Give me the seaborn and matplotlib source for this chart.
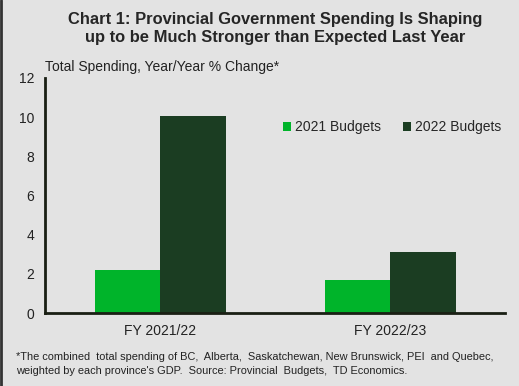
import matplotlib
matplotlib.use("Agg")
import matplotlib.pyplot as plt
import pandas as pd
import seaborn as sns

periods = ["FY 2021/22", "FY 2022/23"]
budget_2021 = [2.2, 1.7]
budget_2022 = [10.05, 3.1]
series_names = ["2021 Budgets", "2022 Budgets"]
yticks = [0, 2, 4, 6, 8, 10, 12]

bg = "#e3e3e3"
colors = ["#00b42a", "#1b3d22"]

df = pd.DataFrame({
    "period": periods * 2,
    "budget": [series_names[0]] * 2 + [series_names[1]] * 2,
    "value": budget_2021 + budget_2022,
})

sns.set_style("white")
plt.rcParams["font.family"] = ["Liberation Sans", "DejaVu Sans"]

fig = plt.figure(figsize=(5.19, 3.86), dpi=100, facecolor=bg)
ax = fig.add_axes([0.087, 0.189, 0.886, 0.609])
ax.set_facecolor(bg)

sns.barplot(data=df, x="period", y="value", hue="budget", palette=colors,
            width=0.57, saturation=1, ax=ax, edgecolor="none")

ax.set_ylim(0, 12)
ax.set_xlim(-0.5, 1.5)
ax.set_yticks(yticks)
ax.set_xlabel("")
ax.set_ylabel("")
ax.tick_params(axis="both", length=0, labelsize=10, colors="#222222", pad=8)
for s in ["top", "right"]:
    ax.spines[s].set_visible(False)
for s in ["left", "bottom"]:
    ax.spines[s].set_color("#1a1f14")
    ax.spines[s].set_linewidth(2)

leg = ax.legend(loc="center left", bbox_to_anchor=(0.49, 0.79), ncol=2, frameon=False,
                fontsize=10, handlelength=0.55, handleheight=0.55, handletextpad=0.3,
                columnspacing=1.6)

fig.text(0.53, 0.968, "Chart 1: Provincial Government Spending Is Shaping\nup to be Much Stronger than Expected Last Year",
         ha="center", va="top", fontsize=11.9, fontweight="bold", linespacing=1.2)
fig.text(45 / 519, 1 - 67 / 386, "Total Spending, Year/Year % Change*", ha="left", va="center",
         fontsize=10, color="#222222")
fig.text(16 / 519, 1 - 364 / 386,
         "*The combined  total spending of BC,  Alberta,  Saskatchewan, New Brunswick, PEI  and Quebec,\n"
         "weighted by each province's GDP.  Source: Provincial  Budgets,  TD Economics.",
         ha="left", va="center", fontsize=7.9, color="#222222", linespacing=1.55)

fig.lines.append(plt.Line2D([0.002, 0.002], [0, 1], transform=fig.transFigure,
                            color="#333333", linewidth=2))

fig.savefig("out.png", dpi=100, facecolor=bg)
